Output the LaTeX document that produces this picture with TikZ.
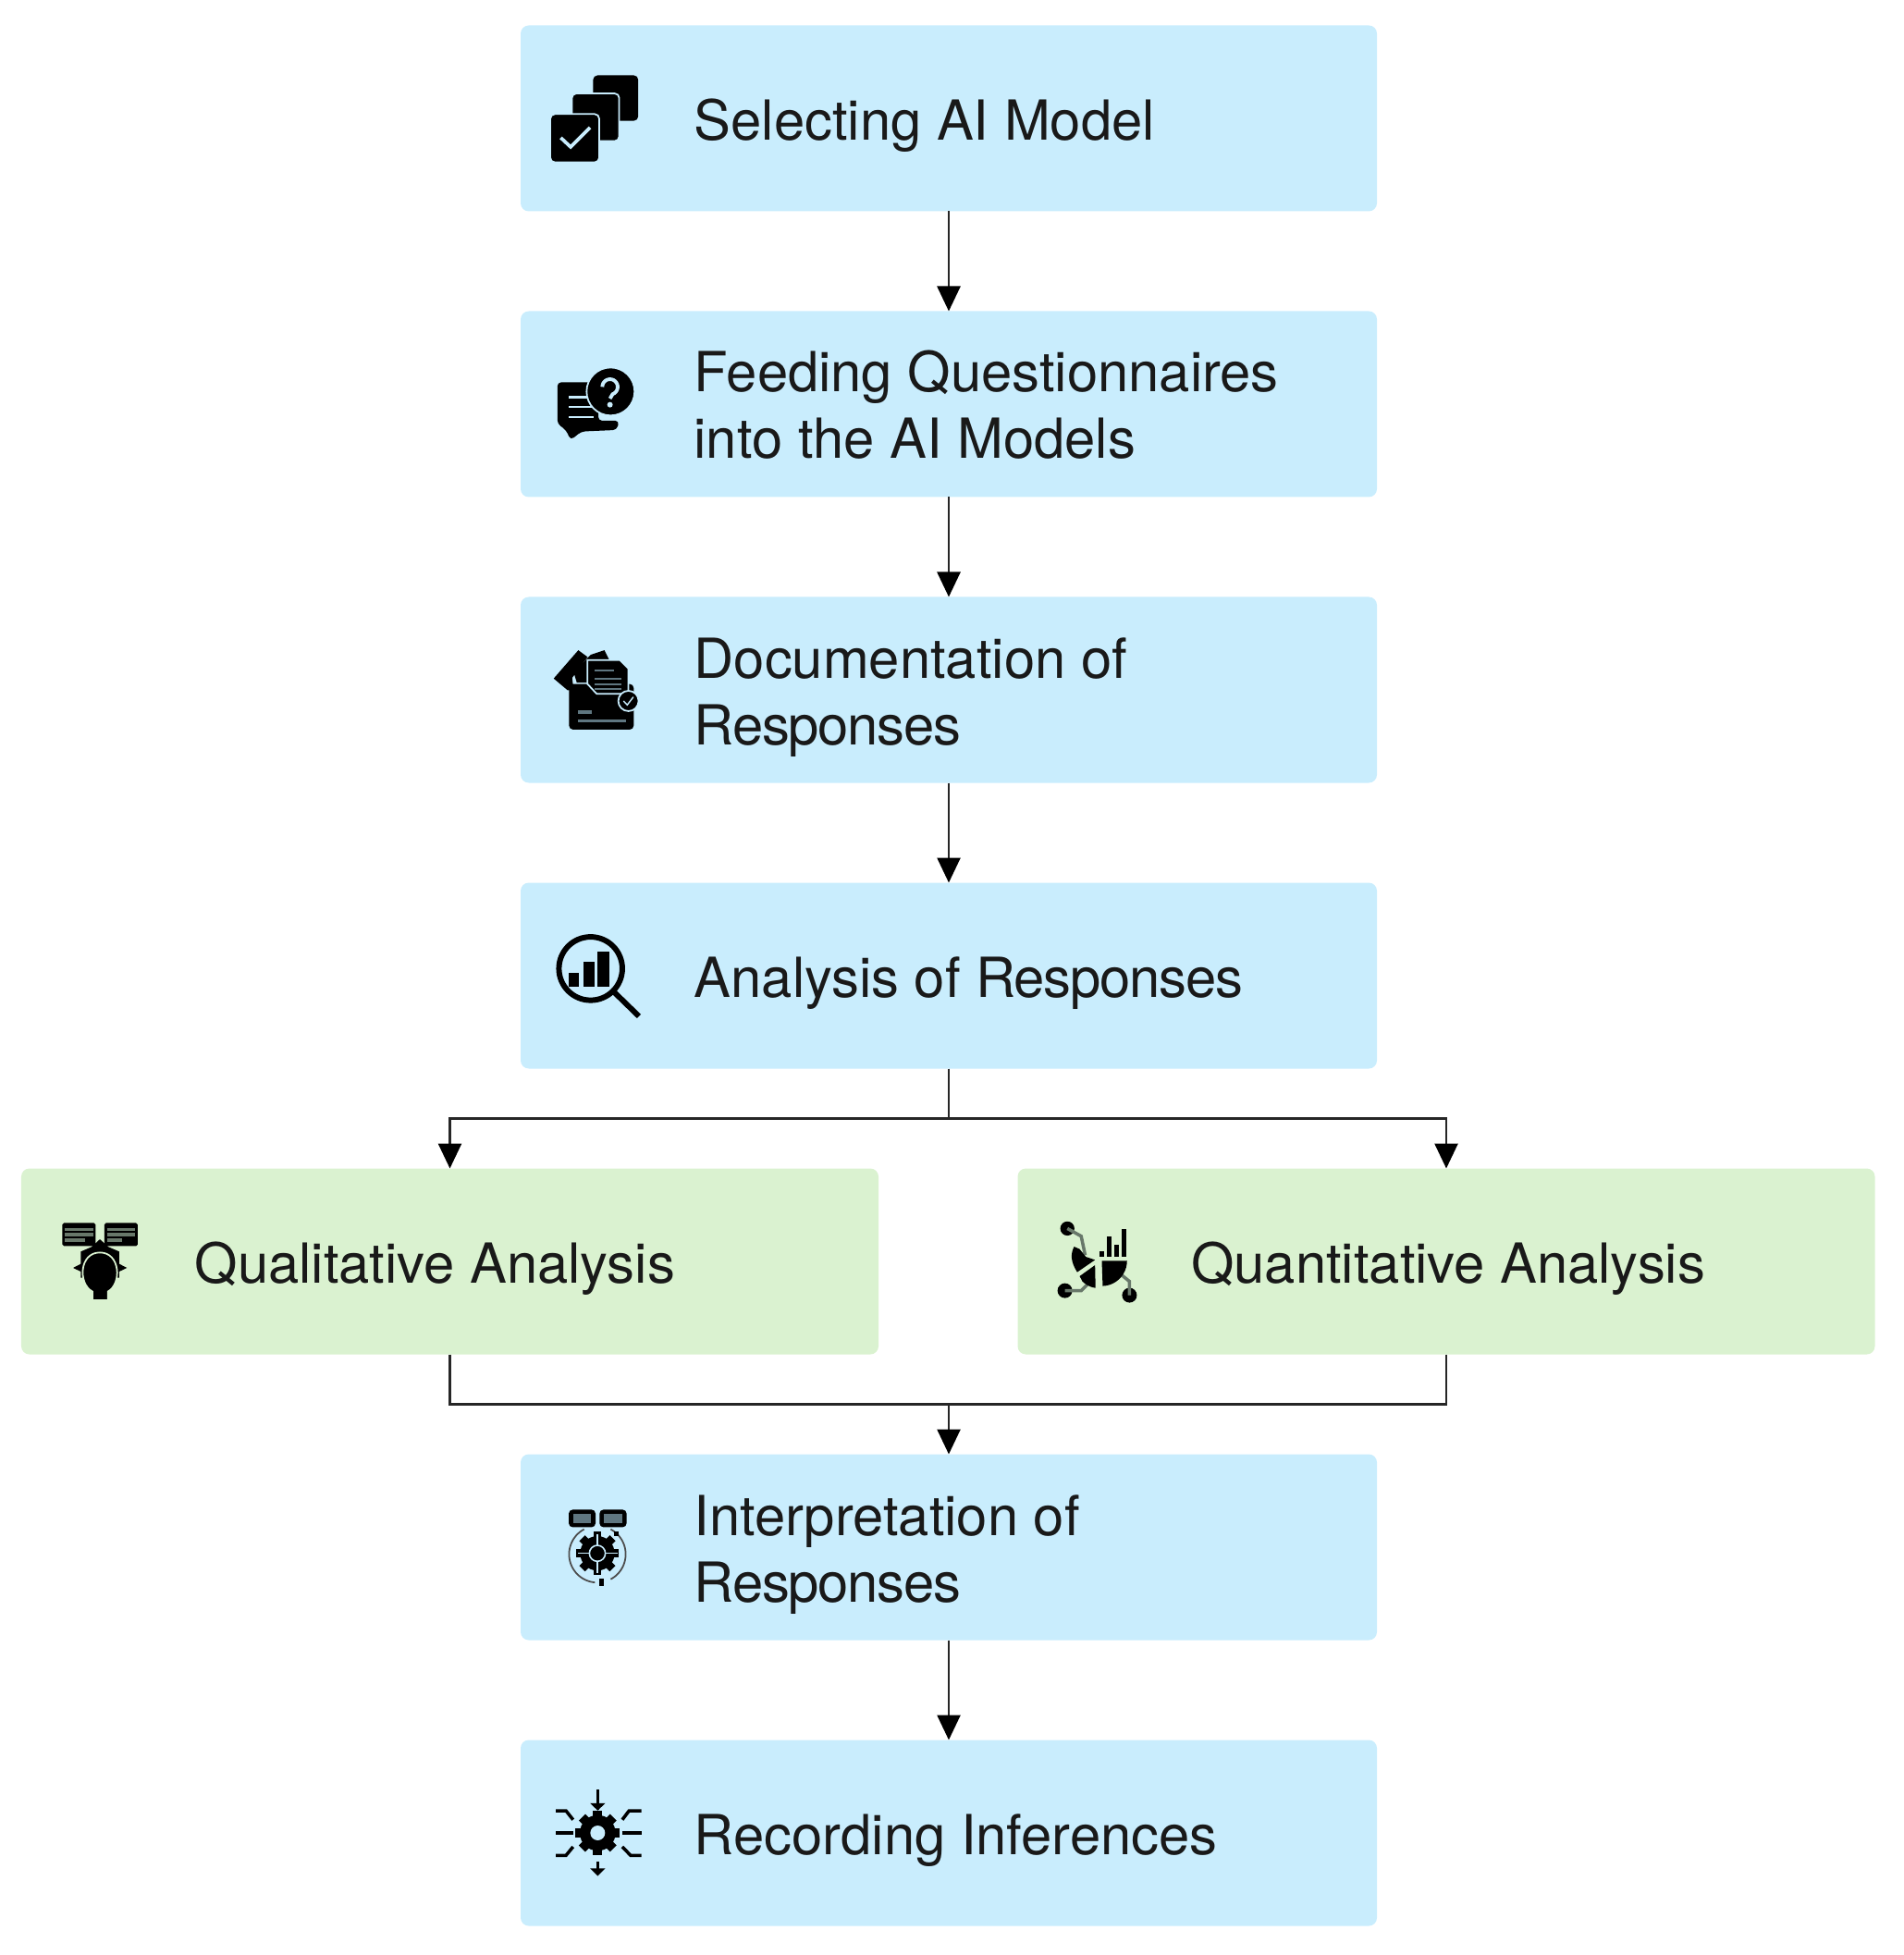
\documentclass[tikz,border=0pt]{standalone}
\usepackage{fontspec}
\setmainfont{TeX Gyre Heros}
\usetikzlibrary{arrows.meta,positioning,calc}
\definecolor{skyfill}{HTML}{C9EDFD}
\definecolor{leaffill}{HTML}{DAF2D0}
\definecolor{skymid}{HTML}{5F7680}
\definecolor{leafmid}{HTML}{68786A}

\newcommand{\tightword}[1]{{\addfontfeature{LetterSpace=-2}#1}}
\newcommand{\drawgear}[4]{%
  \fill (#1,#2) circle[radius=#3];
  \foreach \a in {0,45,...,315} {
    \fill[shift={(#1,#2)},rotate=\a] (-#4,0) rectangle (#4,#3+14);
  }
}

\tikzset{
  skybox/.style={fill=skyfill, rounded corners=2.5pt, minimum width=9.26cm, minimum height=2.01cm, inner sep=0pt, outer sep=0pt},
  leafbox/.style={fill=leaffill, rounded corners=2.5pt, minimum width=9.27cm, minimum height=2.01cm, inner sep=0pt, outer sep=0pt},
  boxlabel/.style={anchor=west, inner sep=0pt, align=left, yshift=-.08cm, text=black!90, font=\fontsize{17}{20.5}\selectfont},
  flow/.style={draw=black!85, line width=.75pt, -{Triangle[length=.27cm,width=.25cm,color=black]}},
  joint/.style={draw=black!85, line width=.75pt},
  iconpx/.style={x=.00333cm, y=-.00333cm},
  iconcopies/.pic={
    \begin{scope}[iconpx, shift={(-250,-322)}]
      \fill[rounded corners=1.4pt] (245,182) rectangle (392,330);
      \draw[draw=skyfill, fill=black, line width=.5pt, rounded corners=1.4pt] (176,241) rectangle (330,396);
      \draw[draw=skyfill, fill=black, line width=.5pt, rounded corners=1.4pt] (106,308) rectangle (265,465);
      \draw[draw=skyfill, line width=1.05pt] (140,385) -- (172,415) -- (235,352);
    \end{scope}
  },
  iconquery/.pic={
    \begin{scope}[iconpx, shift={(-221,-201)}]
      \fill[rounded corners=1.2pt] (97,130) -- (230,130) -- (230,255) -- (298,255) -- (290,285) -- (175,290)
        -- (140,318) -- (125,285) -- (97,265) -- cycle;
      \foreach \y in {178,210,243} {
        \draw[draw=skyfill, line width=.8pt] (135,\y) -- (215,\y);
      }
      \draw[draw=skyfill, fill=black, line width=.5pt] (270,160) circle[radius=78];
      \draw[draw=skyfill, line width=1.1pt] plot[domain=180:-70, samples=20] ({268+25*cos(\x)},{145-25*sin(\x)}) -- (268,183);
      \fill[skyfill] (268,203) circle[radius=9];
    \end{scope}
  },
  icondocs/.pic={
    \begin{scope}[iconpx, shift={(-221,-1129)}]
      \fill (85,1092) -- (165,1000) -- (195,1022) -- (145,1090) -- (150,1130) -- (130,1130) -- cycle;
      \fill (150,1072) -- (205,1015) -- (250,1000) -- (265,1030) -- (200,1105) -- (160,1105) -- cycle;
      \fill[rounded corners=1.2pt] (135,1110) rectangle (345,1258);
      \draw[draw=skyfill, fill=black, line width=.5pt] (195,1032) -- (300,1032) -- (328,1060) -- (328,1142) -- (225,1142) -- (195,1110) -- cycle;
      \foreach \y/\w in {1066/280,1094/305,1110/305,1126/305} {
        \draw[draw=skymid, line width=.6pt] (218,\y) -- (\w,\y);
      }
      \draw[draw=skymid, line width=1.1pt] (165,1200) -- (210,1200);
      \draw[draw=skymid, line width=.8pt] (165,1230) -- (320,1230);
      \draw[draw=skyfill, fill=black, line width=.5pt] (328,1165) circle[radius=33];
      \draw[draw=skyfill, line width=.4pt] (312,1165) -- (324,1178) -- (344,1152);
    \end{scope}
  },
  iconlens/.pic={
    \begin{scope}[iconpx, shift={(-230,-223)}]
      \draw[line width=1.7pt] (205,200) circle[radius=103];
      \draw[line width=1.7pt] (283,278) -- (362,355);
      \fill (135,215) rectangle (168,258);
      \fill (183,178) rectangle (217,258);
      \fill (228,145) rectangle (265,258);
    \end{scope}
  },
  iconhead/.pic={
    \begin{scope}[iconpx, shift={(-262,-312)}]
      \foreach \l/\r in {140/248,277/385} {
        \fill[rounded corners=.5pt] (\l,187) rectangle (\r,262);
        \foreach \y in {207,225} {
          \draw[draw=leafmid, line width=.9pt] (\l+8,\y) -- (\r-8,\y);
        }
      }
      \draw[draw=leafmid, line width=.9pt] (148,243) -- (215,243);
      \draw[draw=leafmid, line width=.9pt] (287,243) -- (335,243);
      \fill (175,333) -- (200,320) -- (200,280) -- (235,265) -- (262,240) -- (290,265) -- (325,280)
        -- (325,320) -- (350,333) -- (325,345) -- (325,365) -- (200,365) -- (200,345) -- cycle;
      \draw[draw=leaffill, fill=black, line width=.5pt] (238,438) -- (238,410) .. controls (190,385) and (195,283) .. (262,283)
        .. controls (329,283) and (334,385) .. (288,410) -- (288,438) -- cycle;
    \end{scope}
  },
  iconpie/.pic={
    \begin{scope}[iconpx, shift={(-257,-310)}]
      \fill (160,203) circle[radius=23];
      \fill (152,405) circle[radius=24];
      \fill (362,420) circle[radius=24];
      \draw[draw=leafmid, line width=1pt] (160,203) -- (205,228) -- (218,290);
      \draw[draw=leafmid, line width=1pt] (152,405) -- (205,405) -- (245,365);
      \draw[draw=leafmid, line width=1pt] (362,420) -- (362,375) -- (325,345);
      \fill (272,308) -- (352,308) -- plot[domain=0:-88, samples=12] ({272+82*cos(\x)},{308-82*sin(\x)}) -- cycle;
      \fill (250,322) -- (200,358) -- plot[domain=225:262, samples=6] ({262+75*cos(\x)},{322-75*sin(\x)}) -- cycle;
      \fill (192,345) .. controls (170,310) and (170,285) .. (182,262) -- (200,270) -- (220,295) -- (250,305) -- cycle;
      \foreach \x/\y in {272/278,296/228,320/255,345/205} {
        \fill (\x-7,\y) rectangle (\x+7,295);
      }
    \end{scope}
  },
  icongear/.pic={
    \begin{scope}[iconpx, shift={(-228,-217)}]
      \foreach \l/\r in {135/222,235/323} {
        \fill[rounded corners=1.2pt] (\l,95) rectangle (\r,152);
        \fill[skymid] (\l+14,110) rectangle (\r-14,138);
      }
      \drawgear{228}{237}{56}{13}
      \draw[draw=skyfill, line width=.45pt] (165,237) -- (295,237);
      \draw[draw=skyfill, line width=.45pt] (228,175) -- (228,300);
      \draw[draw=skyfill, fill=black, line width=.45pt] (228,237) circle[radius=26];
      \draw[draw=black!70, line width=.5pt] plot[domain=118:265, samples=30] ({228+92*cos(\x)},{240-92*sin(\x)});
      \draw[draw=black!70, line width=.5pt] plot[domain=62:-62, samples=30] ({228+92*cos(\x)},{240-92*sin(\x)});
      \fill (282,165) rectangle (298,181);
      \fill (235,318) rectangle (250,342);
    \end{scope}
  },
  iconcog/.pic={
    \begin{scope}[iconpx, shift={(-230,-1145)}]
      \drawgear{228}{1145}{58}{15}
      \fill[skyfill] (228,1145) circle[radius=24];
      \draw[line width=1pt] (228,1005) -- (228,1070);
      \fill (203,1048) -- (253,1048) -- (228,1072) -- cycle;
      \draw[line width=1pt] (228,1238) -- (228,1265);
      \fill (203,1260) -- (253,1260) -- (228,1285) -- cycle;
      \draw[line width=1pt] (92,1145) -- (148,1145);
      \draw[line width=1pt] (308,1145) -- (370,1145);
      \draw[line width=1pt] (92,1073) -- (125,1073) -- (148,1102);
      \draw[line width=1pt] (92,1218) -- (125,1218) -- (148,1190);
      \draw[line width=1pt] (370,1073) -- (330,1073) -- (308,1102);
      \draw[line width=1pt] (370,1218) -- (335,1218) -- (308,1190);
    \end{scope}
  }
}

\begin{document}
\begin{tikzpicture}
    \useasboundingbox (0,0) rectangle (20.58,-21.14);

    \node[skybox] (select) at (10.26,-1.28) {};
    \node[skybox, below=1.08cm of select] (feed) {};
    \node[skybox, below=1.08cm of feed] (docs) {};
    \node[skybox, below=1.08cm of docs] (analysis) {};
    \node[leafbox, below=1.08cm of analysis, xshift=-5.395cm] (qual) {};
    \node[leafbox, below=1.08cm of analysis, xshift=5.38cm] (quant) {};
    \node[skybox, below=1.08cm of qual, xshift=5.395cm] (interp) {};
    \node[skybox, below=1.08cm of interp] (record) {};

    \node[boxlabel] (selectText) at ([xshift=1.87cm]select.west) {Selecting AI Model};
    \node[boxlabel, yshift=.07cm] (feedText) at ([xshift=1.87cm]feed.west) {Feeding Questionnaires\\into the AI Models};
    \node[boxlabel] (docsText) at ([xshift=1.87cm]docs.west) {Documentation of\\\tightword{Responses}};
    \node[boxlabel] (analysisText) at ([xshift=1.87cm]analysis.west) {Analysis of \tightword{Responses}};
    \node[boxlabel] (qualText) at ([xshift=1.87cm]qual.west) {Qualitative Analysis};
    \node[boxlabel] (quantText) at ([xshift=1.87cm]quant.west) {Quantitative Analysis};
    \node[boxlabel] (interpText) at ([xshift=1.87cm]interp.west) {Interpretation of\\\tightword{Responses}};
    \node[boxlabel] (recordText) at ([xshift=1.87cm]record.west) {Recording Inferences};

    \pic at ([xshift=.80cm]select.west) {iconcopies};
    \pic at ([xshift=.81cm]feed.west) {iconquery};
    \pic at ([xshift=.81cm]docs.west) {icondocs};
    \pic at ([xshift=.84cm]analysis.west) {iconlens};
    \pic at ([xshift=.85cm]qual.west) {iconhead};
    \pic at ([xshift=.86cm]quant.west) {iconpie};
    \pic at ([xshift=.83cm]interp.west) {icongear};
    \pic at ([xshift=.84cm]record.west) {iconcog};

    \draw[flow] (select) -- (feed);
    \draw[flow] (feed) -- (docs);
    \draw[flow] (docs) -- (analysis);
    \draw[flow] (analysis.south) -- ++(0,-.54) -| (qual.north);
    \draw[flow] (analysis.south) -- ++(0,-.54) -| (quant.north);

    \coordinate[above=.54cm of interp.north] (merge);
    \draw[joint] (qual.south) |- (merge);
    \draw[joint] (quant.south) |- (merge);
    \draw[flow] (merge) -- (interp.north);
    \draw[flow] (interp) -- (record);
\end{tikzpicture}
\end{document}
